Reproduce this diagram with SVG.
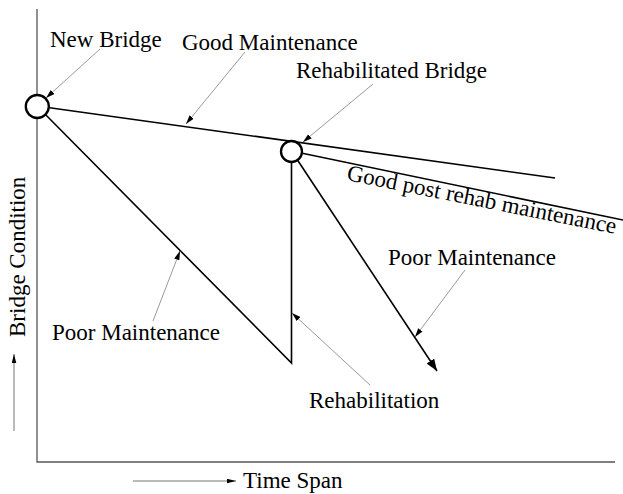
<svg xmlns="http://www.w3.org/2000/svg" width="623" height="494" viewBox="0 0 623 494">
<defs>
<marker id="big" markerUnits="userSpaceOnUse" markerWidth="13" markerHeight="10" refX="12" refY="4.5" orient="auto"><path d="M0,0 L12,4.5 L0,9 z" fill="#000"/></marker>
<marker id="lead" markerUnits="userSpaceOnUse" markerWidth="10" markerHeight="6" refX="9" refY="2.75" orient="auto"><path d="M0,0 L9,2.75 L0,5.5 z" fill="#000"/></marker>
<marker id="ax" markerUnits="userSpaceOnUse" markerWidth="10" markerHeight="6" refX="9" refY="2.25" orient="auto"><path d="M0,0 L9,2.25 L0,4.5 z" fill="#000"/></marker>
</defs>
<style>
.t{font-family:"Liberation Serif","Times New Roman",serif;font-size:23px;fill:#000}
.d{stroke:#000;stroke-width:1.6;fill:none}
.l{stroke:#999;stroke-width:1;fill:none;marker-end:url(#lead)}
.a{stroke:#555;stroke-width:1.3;fill:none}
.n{fill:#fff;stroke:#000;stroke-width:2.3}
</style>
<rect width="623" height="494" fill="#fff"/>
<g id="axes">
<path class="a" d="M37,9 V462 H615"/>
<line x1="133" y1="481" x2="236" y2="481" stroke="#777" stroke-width="1" marker-end="url(#ax)"/>
<line x1="14" y1="431" x2="14" y2="354" stroke="#777" stroke-width="1" marker-end="url(#ax)"/>
<text class="t" x="243" y="488">Time Span</text>
<text class="t" transform="translate(25,337) rotate(-90)">Bridge Condition</text>
</g>
<g id="connectors">
<line class="d" x1="37" y1="106" x2="555" y2="178"/>
<line class="d" x1="291.5" y1="151" x2="623" y2="220"/>
<polyline class="d" points="37,106 291.5,363 291.5,151"/>
<line class="d" x1="291.5" y1="151" x2="437" y2="371" marker-end="url(#big)"/>
<line class="l" x1="100" y1="49" x2="46" y2="98"/>
<line class="l" x1="245" y1="52" x2="186" y2="124"/>
<line class="l" x1="373" y1="84" x2="303" y2="142"/>
<line class="l" x1="153" y1="321" x2="180" y2="251"/>
<line class="l" x1="370" y1="385" x2="292" y2="313"/>
<line class="l" x1="465" y1="270" x2="415" y2="337"/>
</g>
<g id="new-bridge">
<circle class="n" cx="37.3" cy="106.5" r="11.5"/>
<text class="t" x="50" y="47">New Bridge</text>
</g>
<g id="rehabilitated-bridge">
<circle class="n" cx="291.5" cy="151.5" r="10.5"/>
<text class="t" x="296" y="78">Rehabilitated Bridge</text>
</g>
<g id="good-maintenance"><text class="t" x="182" y="50">Good Maintenance</text></g>
<g id="good-post-rehab"><text class="t" transform="translate(346,180) rotate(11.3)">Good post rehab maintenance</text></g>
<g id="poor-maintenance-1"><text class="t" x="52" y="340">Poor Maintenance</text></g>
<g id="poor-maintenance-2"><text class="t" x="388" y="265">Poor Maintenance</text></g>
<g id="rehabilitation"><text class="t" x="309" y="408">Rehabilitation</text></g>
</svg>
